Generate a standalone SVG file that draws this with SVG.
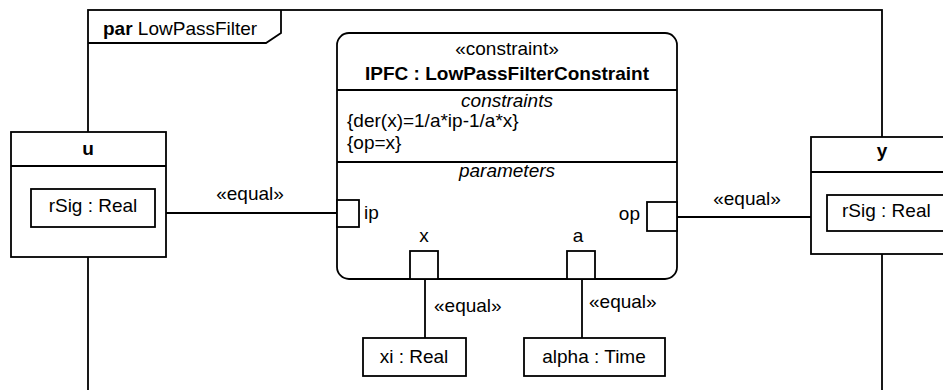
<svg xmlns="http://www.w3.org/2000/svg" width="943" height="390" viewBox="0 0 943 390">
<style>
  .ln{fill:none;stroke:#000;stroke-width:1.8}
  .box{fill:#fff;stroke:#000;stroke-width:1.8}
  text{font-family:"Liberation Sans",Arial,sans-serif;font-size:19px;fill:#000}
  .b{font-weight:bold}
  .i{font-style:italic}
  .m{text-anchor:middle}
  .e{text-anchor:end}
</style>
<rect width="943" height="390" fill="#fff"/>
<g id="frame">
  <rect class="ln" x="88" y="10" width="794" height="400"/>
  <path class="ln" d="M88,43 H266 L281,33 V10"/>
  <text x="103" y="35"><tspan class="b">par</tspan> LowPassFilter</text>
</g>
<g id="connectors">
  <line class="ln" x1="155" y1="213" x2="337" y2="213"/>
  <text class="m" x="250" y="200">«equal»</text>
  <line class="ln" x1="677" y1="217" x2="827" y2="217"/>
  <text class="m" x="747" y="205">«equal»</text>
  <line class="ln" x1="425" y1="279" x2="425" y2="338"/>
  <text x="434" y="312">«equal»</text>
  <line class="ln" x1="582" y1="279" x2="582" y2="338"/>
  <text x="589" y="308">«equal»</text>
</g>
<g id="u">
  <rect class="box" x="11" y="132" width="155" height="125"/>
  <line class="ln" x1="11" y1="166" x2="166" y2="166"/>
  <text class="m b" x="88" y="155">u</text>
  <g id="u_rSig">
    <rect class="box" x="31" y="189" width="124" height="38"/>
    <text class="m" x="93" y="212">rSig : Real</text>
  </g>
</g>
<g id="y">
  <rect class="box" x="811" y="137" width="140" height="117"/>
  <line class="ln" x1="811" y1="172" x2="951" y2="172"/>
  <text class="m b" x="882" y="157">y</text>
  <g id="y_rSig">
    <rect class="box" x="827" y="195" width="124" height="36"/>
    <text x="842" y="217">rSig : Real</text>
  </g>
</g>
<g id="IPFC">
  <rect class="box" x="337" y="33" width="340" height="246" rx="12" ry="12"/>
  <line class="ln" x1="337" y1="90" x2="677" y2="90"/>
  <line class="ln" x1="337" y1="162" x2="677" y2="162"/>
  <text class="m" x="507" y="55">«constraint»</text>
  <text class="m b" x="507" y="80">IPFC : LowPassFilterConstraint</text>
  <text class="m i" x="507" y="107">constraints</text>
  <text x="347" y="127">{der(x)=1/a*ip-1/a*x}</text>
  <text x="347" y="149">{op=x}</text>
  <text class="m i" x="507" y="177">parameters</text>
</g>
<g id="port_ip">
  <rect class="box" x="337" y="200" width="22" height="27"/>
  <text x="364" y="219">ip</text>
</g>
<g id="port_op">
  <rect class="box" x="647" y="202" width="30" height="29"/>
  <text class="e" x="640" y="220">op</text>
</g>
<g id="port_x">
  <rect class="box" x="410" y="251" width="28" height="28"/>
  <text class="m" x="424" y="242">x</text>
</g>
<g id="port_a">
  <rect class="box" x="567" y="251" width="28" height="28"/>
  <text class="m" x="578" y="242">a</text>
</g>
<g id="xi">
  <rect class="box" x="363" y="338" width="103" height="38"/>
  <text class="m" x="414" y="363">xi : Real</text>
</g>
<g id="alpha">
  <rect class="box" x="524" y="338" width="141" height="38"/>
  <text class="m" x="594" y="363">alpha : Time</text>
</g>
</svg>
